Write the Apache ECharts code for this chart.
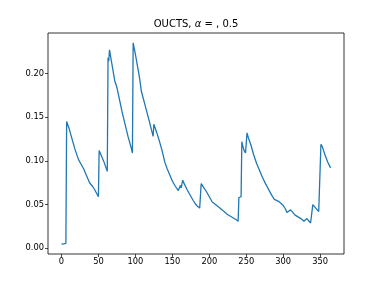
<!DOCTYPE html>
<html>
<head>
<meta charset="utf-8">
<script src="https://cdn.jsdelivr.net/npm/echarts@6/dist/echarts.min.js"></script>
<style>html,body{margin:0;padding:0;background:#fff;}#c{width:382px;height:286px;}</style>
</head>
<body>
<div id="c"></div>
<script>
const titleText = 'OUCTS, {i|α} = , 0.5';
const xTicks = [0, 50, 100, 150, 200, 250, 300, 350];
const yTicks = [0, 0.05, 0.10, 0.15, 0.20];
const days = [0,3,6,7,10,14,18,22,24,26,27,30,34,38,40,42,45,50,51,53,57,62,63,64,65,68,72,75,78,82,86,90,94,96,97,100,104,106,108,113,118,121,124,125,129,132,136,140,143,146,150,154,158,159,161,162,164,166,170,174,178,181,184,187,189,192,196,200,204,207,210,213,215,217,220,224,228,232,236,239,240,243,244,245,247,249,251,253,254,256,260,264,268,272,276,278,281,285,288,290,293,296,300,303,305,307,310,312,316,320,324,328,330,332,334,337,339,340,344,348,350,351,353,356,360,364];
const values = [0.0047,0.0052,0.0057,0.145,0.138,0.126,0.114,0.104,0.100,0.097,0.098,0.091,0.083,0.075,0.074,0.071,0.067,0.059,0.112,0.108,0.100,0.088,0.218,0.214,0.227,0.212,0.192,0.184,0.172,0.156,0.142,0.128,0.116,0.109,0.235,0.222,0.203,0.193,0.180,0.164,0.148,0.138,0.128,0.142,0.132,0.124,0.112,0.098,0.091,0.085,0.077,0.071,0.066,0.064,0.072,0.069,0.078,0.074,0.067,0.061,0.055,0.051,0.048,0.046,0.074,0.070,0.065,0.059,0.053,0.051,0.049,0.047,0.046,0.044,0.042,0.039,0.037,0.035,0.033,0.031,0.058,0.059,0.122,0.118,0.112,0.109,0.132,0.126,0.127,0.119,0.107,0.097,0.089,0.081,0.074,0.071,0.066,0.060,0.056,0.057,0.054,0.052,0.049,0.045,0.041,0.040,0.044,0.042,0.038,0.036,0.034,0.031,0.030,0.034,0.032,0.029,0.028,0.050,0.046,0.042,0.040,0.119,0.116,0.108,0.099,0.092];

const seriesData = days.map((d, i) => [d, values[i]]);
const font = 'DejaVu Sans';
const chart = echarts.init(document.getElementById('c'), null, {renderer: 'canvas'});
chart.setOption({
  animation: false,
  backgroundColor: '#fff',
  graphic: [{
    type: 'text', x: 196, y: 24,
    style: {
      text: titleText, align: 'center', verticalAlign: 'middle',
      fontSize: 10, fontFamily: font, fill: '#000',
      rich: { i: { fontStyle: 'italic', fontSize: 10, fontFamily: font, fill: '#000' } }
    }
  }],
  grid: { left: 48, top: 33, width: 296, height: 221, show: true, borderColor: '#000', borderWidth: 0.8, backgroundColor: 'transparent' },
  xAxis: {
    type: 'value', min: -18.2, max: 382.2, position: 'bottom',
    splitLine: { show: false },
    axisLine: { show: false, onZero: false },
    axisTick: { show: true, inside: false, length: 3, customValues: xTicks, lineStyle: { color: '#000', width: 0.7 } },
    axisLabel: { customValues: xTicks, fontSize: 8.3, fontFamily: font, color: '#000', margin: 4 }
  },
  yAxis: {
    type: 'value', min: -0.0065, max: 0.2463, position: 'left',
    splitLine: { show: false },
    axisLine: { show: false, onZero: false },
    axisTick: { show: true, inside: false, length: 3, customValues: yTicks, lineStyle: { color: '#000', width: 0.7 } },
    axisLabel: { customValues: yTicks, fontSize: 8.3, fontFamily: font, color: '#000', margin: 4, formatter: v => v.toFixed(2) }
  },
  series: [{
    type: 'line', data: seriesData, showSymbol: false, symbol: 'none',
    lineStyle: { color: '#1f77b4', width: 1.3 }
  }]
});
</script>
</body>
</html>
